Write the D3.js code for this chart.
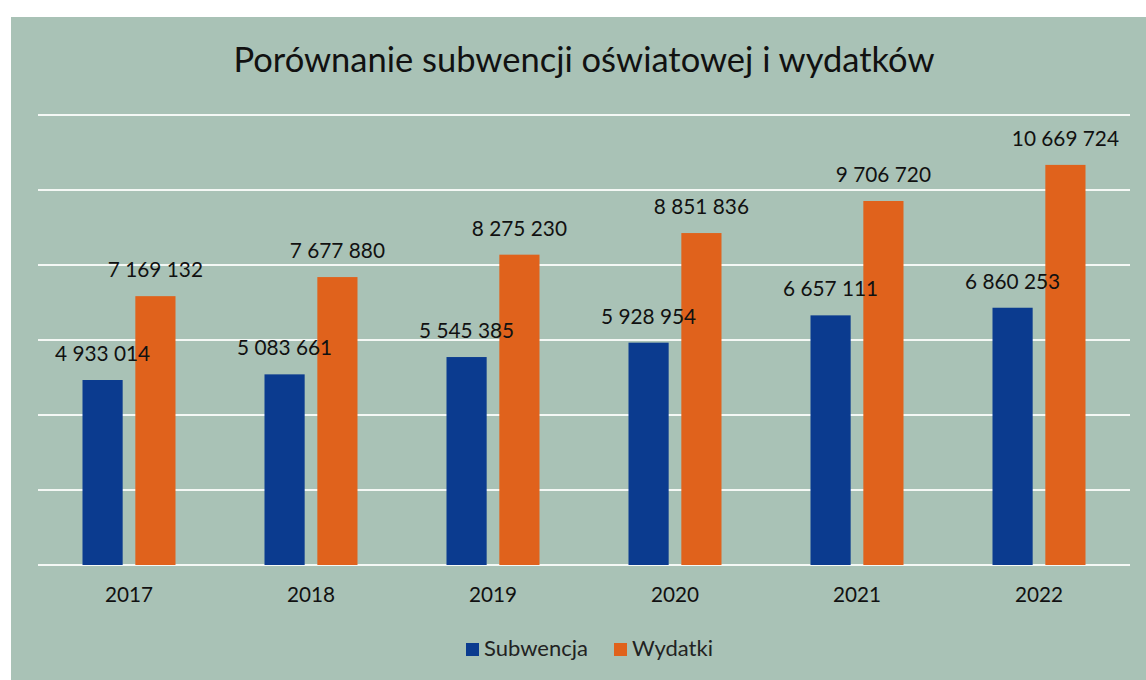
<!DOCTYPE html>
<html><head><meta charset="utf-8">
<script src="https://cdn.jsdelivr.net/npm/d3@7"></script>
<style>body{margin:0;background:#fff}svg{display:block}</style>
</head><body>
<svg id="c" width="1146" height="680"></svg>
<script>
const years = ["2017","2018","2019","2020","2021","2022"];
const subwencja = [4933014, 5083661, 5545385, 5928954, 6657111, 6860253];
const wydatki = [7169132, 7677880, 8275230, 8851836, 9706720, 10669724];
const seriesNames = ["Subwencja","Wydatki"];
const seriesColors = ["#0b3b8f","#e0621c"];
const gridTicks = [0,2000000,4000000,6000000,8000000,10000000,12000000];
const title = "Porównanie subwencji oświatowej i wydatków";

const svg = d3.select("#c");
const font = "Lato, 'Open Sans', sans-serif";
svg.append("rect").attr("x",11).attr("y",17).attr("width",1135).attr("height",663).attr("fill","#a9c2b6");

const x = d3.scaleBand().domain(years).range([38,1130]).paddingInner(0).paddingOuter(0);
const y = d3.scaleLinear().domain([0,12000000]).range([565,115]);
const xs = d3.scaleBand().domain(seriesNames).range([0,93]).paddingInner(0.24);

svg.append("g").selectAll("line").data(gridTicks).join("line")
  .attr("x1",38).attr("x2",1130).attr("y1",d=>y(d)).attr("y2",d=>y(d))
  .attr("stroke","#f4f8f5").attr("stroke-width",2);

svg.append("text").attr("x",584).attr("y",72).attr("text-anchor","middle")
  .attr("font-family",font).attr("font-size",34.5).attr("fill","#111").text(title);

const data = years.map((yr,i)=>({yr, vals:[subwencja[i],wydatki[i]]}));
const g = svg.append("g").selectAll("g").data(data).join("g")
  .attr("transform",d=>`translate(${x(d.yr)+x.bandwidth()/2-46.5},0)`);
const fmt = v => d3.format(",")(v).replace(/,/g," ");
seriesNames.forEach((s,si)=>{
  g.append("rect").attr("x",xs(s)).attr("width",xs.bandwidth())
    .attr("y",d=>y(d.vals[si])).attr("height",d=>y(0)-y(d.vals[si]))
    .attr("fill",seriesColors[si]);
});
seriesNames.forEach((s,si)=>{
  g.append("text").attr("x",xs(s)+xs.bandwidth()/2).attr("y",d=>y(d.vals[si])-19)
    .attr("text-anchor","middle").attr("font-family",font).attr("font-size",20.8).attr("fill","#111")
    .text(d=>fmt(d.vals[si]));
});

const xAxis = svg.append("g").attr("transform","translate(0,565)").call(d3.axisBottom(x).tickSize(0).tickPadding(0));
xAxis.select(".domain").remove();
xAxis.selectAll("text").attr("y",37).attr("dy",0).attr("font-family",font).attr("font-size",20.7).attr("fill","#111");

const leg = svg.append("g");
const legX = [466,614];
seriesNames.forEach((s,i)=>{
  leg.append("rect").attr("x",legX[i]).attr("y",643).attr("width",13).attr("height",13).attr("fill",seriesColors[i]);
  leg.append("text").attr("x",legX[i]+18).attr("y",656).attr("font-family",font).attr("font-size",22).attr("fill","#222").text(s);
});
</script>
</body></html>
